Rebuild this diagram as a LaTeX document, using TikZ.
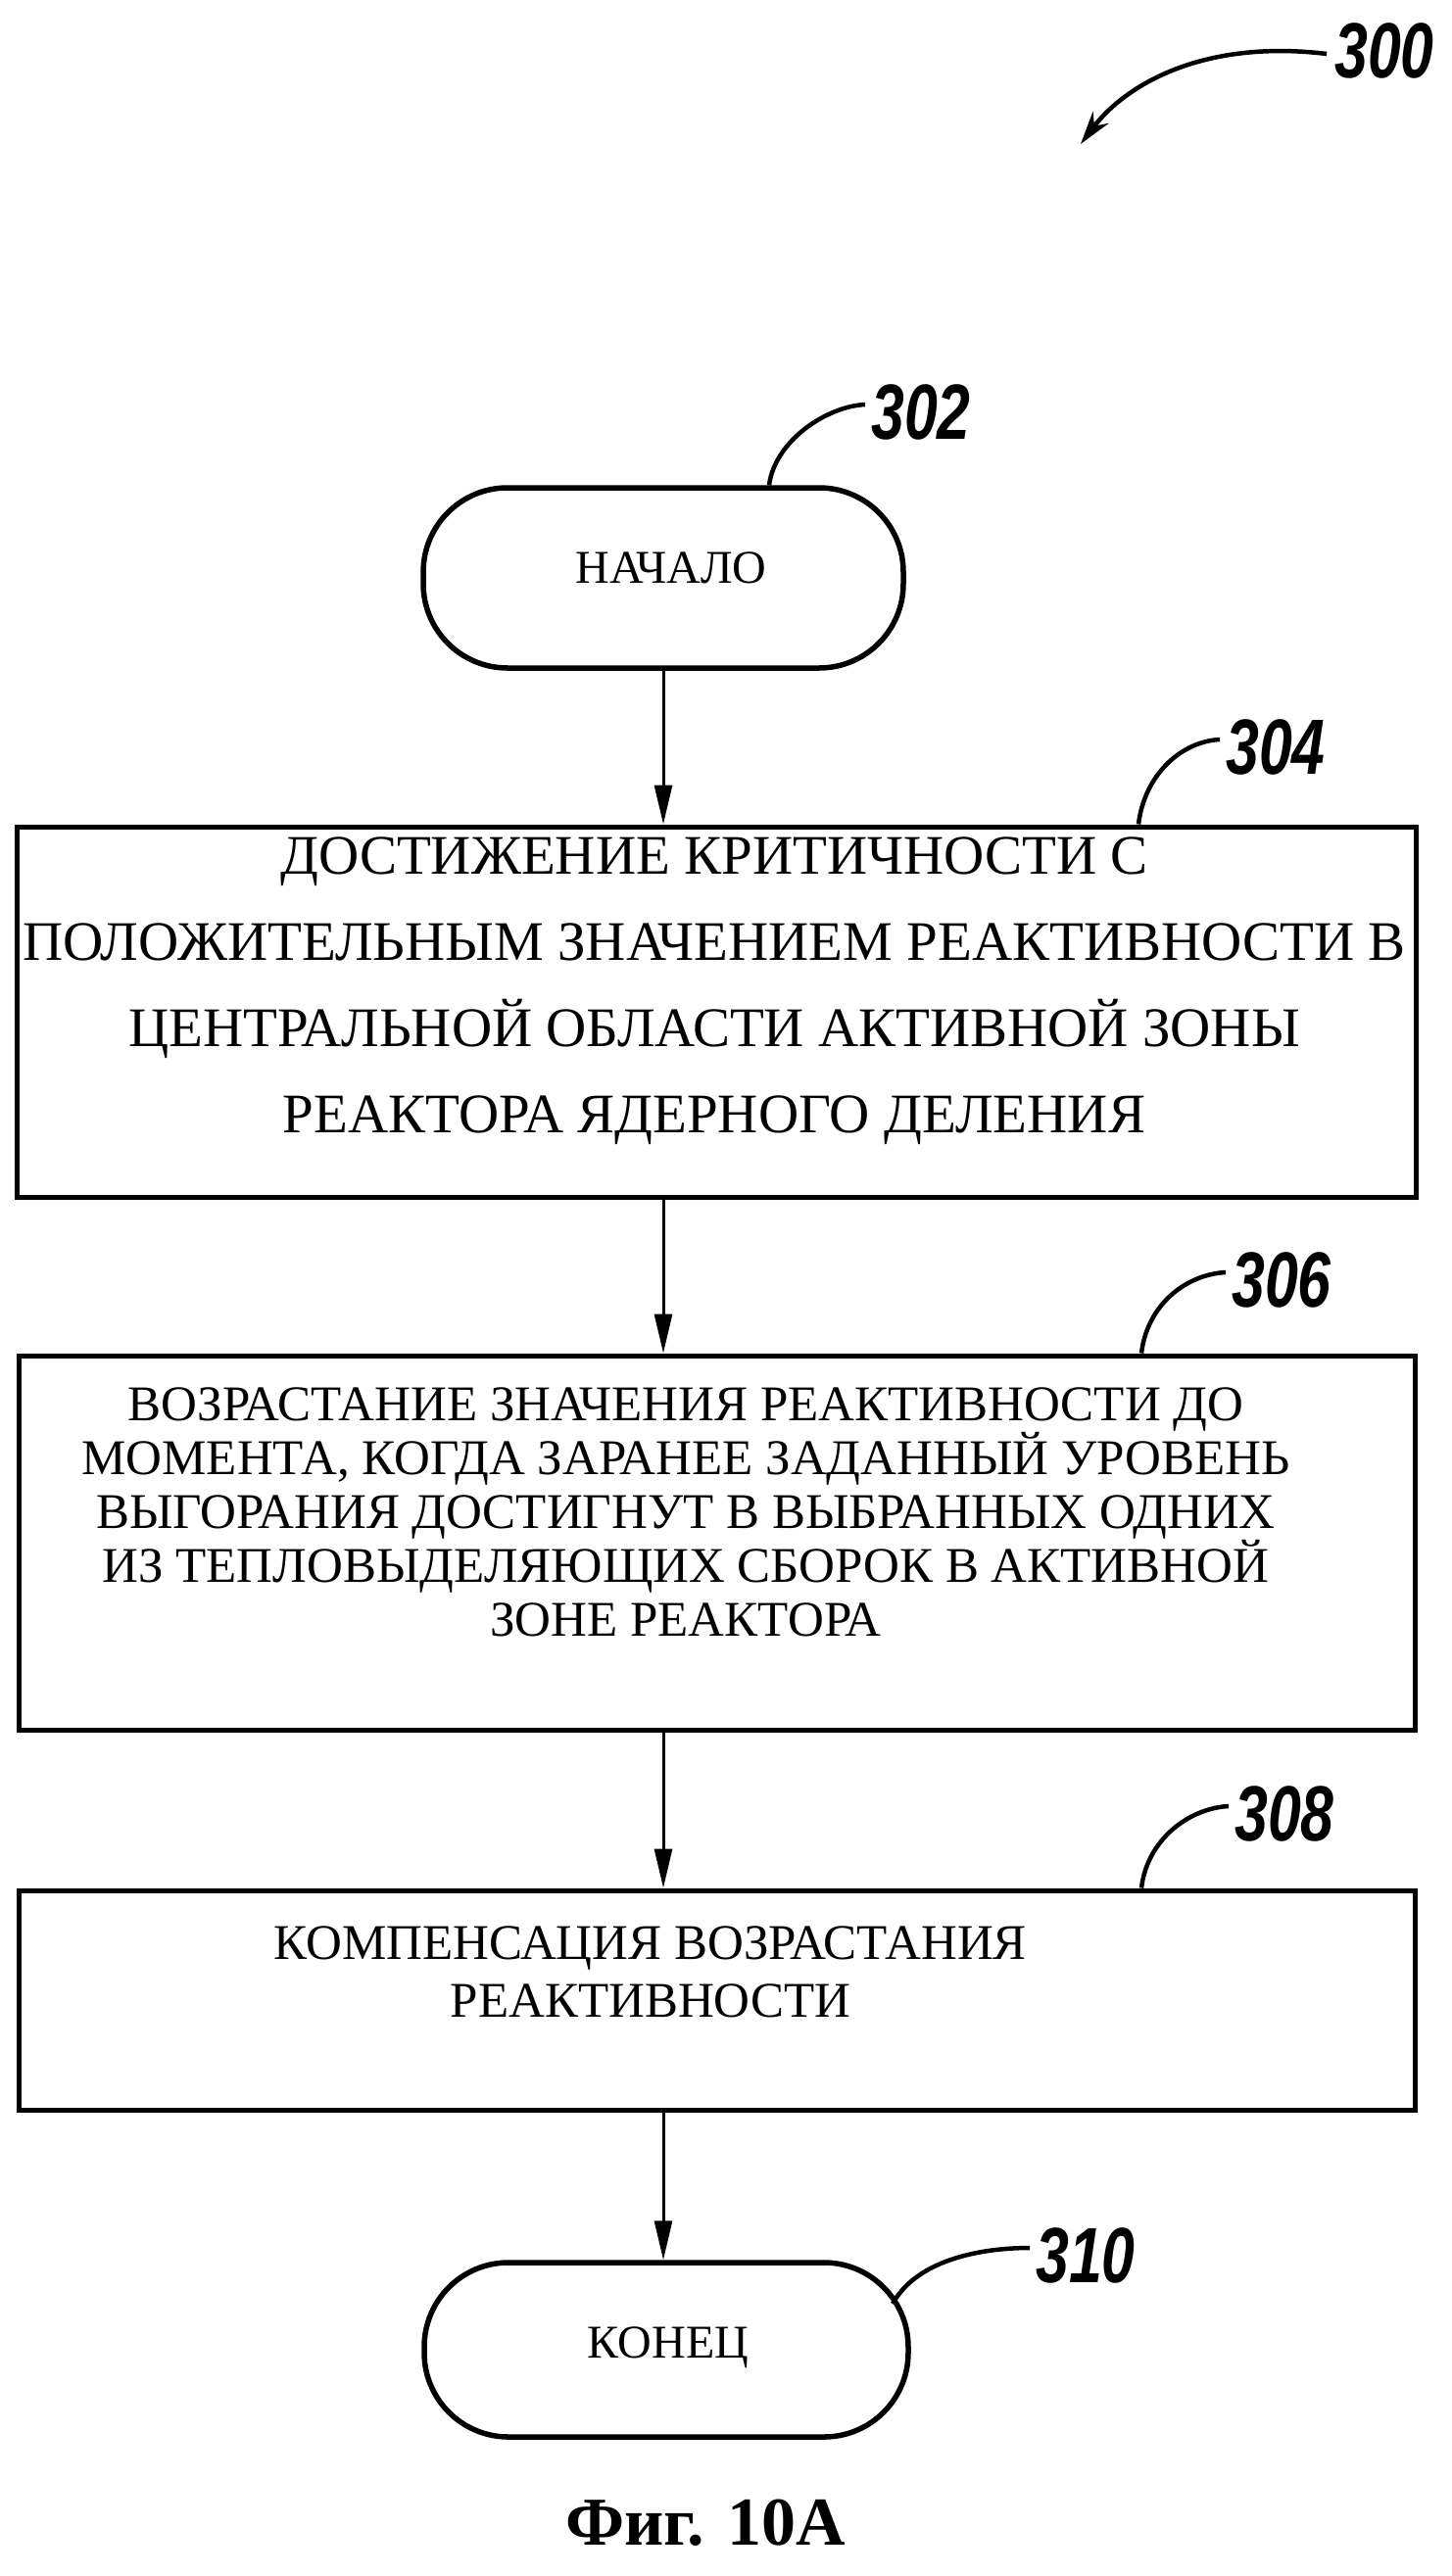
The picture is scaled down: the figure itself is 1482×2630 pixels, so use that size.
\documentclass[tikz,border=0pt]{standalone}
\usepackage{fontspec}
\setmainfont{Liberation Serif}
\newfontfamily\labfont[FakeStretch=0.76]{Liberation Sans}
\usetikzlibrary{arrows.meta}
\begin{document}
\begin{tikzpicture}[x=1pt,y=-1pt,
  box/.style={draw, line width=5pt, inner sep=0pt},
  term/.style={draw, line width=5.5pt, inner sep=0pt, rounded corners=86pt},
  txt/.style={align=center, inner sep=0pt},
  lab/.style={font=\labfont\bfseries\itshape\fontsize{80}{80}\selectfont, inner sep=0pt},
  lead/.style={line width=4.5pt},
  arr/.style={line width=3pt, -{Triangle[length=40pt,width=18pt]}}]
\useasboundingbox (0,0) rectangle (1482,2630);
% labels
\node[lab] (l300) at (1413,52) {300};
\node[lab] (l302) at (940,421) {302};
\node[lab] (l304) at (1302,763) {304};
\node[lab] (l306) at (1308,1307) {306};
\node[lab] (l308) at (1311,1852) {308};
\node[lab] (l310) at (1108,2303) {310};
% shapes
\node[term, minimum width=490pt, minimum height=184pt] (start) at (677,590) {};
\node[txt, font=\fontsize{48}{58}\selectfont] (tstart) at (685,580) {НАЧАЛО};
\node[box, minimum width=1428pt, minimum height=378pt] (b304) at (731,1033) {};
\node[txt, font=\fontsize{57}{88}\selectfont] (t304) at (729,1012) {ДОСТИЖЕНИЕ КРИТИЧНОСТИ С\\ПОЛОЖИТЕЛЬНЫМ ЗНАЧЕНИЕМ РЕАКТИВНОСТИ В\\ЦЕНТРАЛЬНОЙ ОБЛАСТИ АКТИВНОЙ ЗОНЫ\\РЕАКТОРА ЯДЕРНОГО ДЕЛЕНИЯ};
\node[box, minimum width=1425pt, minimum height=382pt] (b306) at (732,1575) {};
\node[txt, font=\fontsize{51}{55}\selectfont] (t306) at (700,1544) {ВОЗРАСТАНИЕ ЗНАЧЕНИЯ РЕАКТИВНОСТИ ДО\\МОМЕНТА, КОГДА ЗАРАНЕЕ ЗАДАННЫЙ УРОВЕНЬ\\ВЫГОРАНИЯ ДОСТИГНУТ В ВЫБРАННЫХ ОДНИХ\\ИЗ ТЕПЛОВЫДЕЛЯЮЩИХ СБОРОК В АКТИВНОЙ\\ЗОНЕ РЕАКТОРА};
\node[box, minimum width=1425pt, minimum height=224pt] (b308) at (732,2042) {};
\node[txt, font=\fontsize{51}{59}\selectfont] (t308) at (664,2013) {КОМПЕНСАЦИЯ ВОЗРАСТАНИЯ\\РЕАКТИВНОСТИ};
\node[term, minimum width=494pt, minimum height=178pt] (end) at (680,2399) {};
\node[txt, font=\fontsize{48}{58}\selectfont] (tend) at (682,2397) {КОНЕЦ};
\node[font=\bfseries\fontsize{70}{80}\selectfont, inner sep=0pt] (cap) at (720,2576) {Фиг. 10А};
% flow arrows
\draw[arr] (start.south) -- (start.south |- b304.north);
\draw[arr] (start.south |- b304.south) -- (start.south |- b306.north);
\draw[arr] (start.south |- b306.south) -- (start.south |- b308.north);
\draw[arr] (start.south |- b308.south) -- (start.south |- end.north);
% leaders
\coordinate (a300) at (1103,147);
\draw[lead, -{Stealth[length=34pt,width=20pt]}] ([xshift=-8pt,yshift=-3pt]l300.west) .. controls (1230,40) and (1150,85) .. (a300);
\draw[lead] ([xshift=108pt]start.north) .. controls +(6,-45) and +(-40,2) .. ([xshift=-6pt,yshift=8pt]l302.west);
\draw[lead] ([xshift=431pt]b304.north) .. controls +(6,-50) and +(-40,2) .. ([xshift=-6pt,yshift=8pt]l304.west);
\draw[lead] ([xshift=433pt]b306.north) .. controls +(6,-50) and +(-40,2) .. ([xshift=-6pt,yshift=8pt]l306.west);
\draw[lead] ([xshift=433pt]b308.north) .. controls +(6,-50) and +(-40,2) .. ([xshift=-6pt,yshift=8pt]l308.west);
\draw[lead] (911,2352) .. controls +(25,-45) and +(-50,0) .. ([xshift=-6pt,yshift=8pt]l310.west);
\end{tikzpicture}
\end{document}
